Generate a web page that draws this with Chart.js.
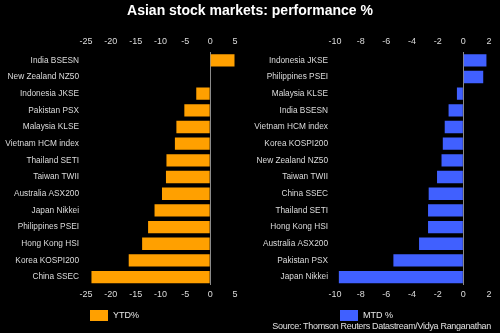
<!DOCTYPE html>
<html>
<head>
<meta charset="utf-8">
<script src="https://cdn.jsdelivr.net/npm/chart.js@4"></script>
<style>
    body { margin: 0; background: #000; }
    #wrap { position: relative; width: 500px; height: 333px; background: #000; overflow: hidden; }
    #title {
        position: absolute; left: 0; top: 2px; width: 500px; text-align: center;
        font: bold 14px "Liberation Sans", Arial, sans-serif; color: #fff;
    }
    #source {
        position: absolute; right: 9px; top: 321px; letter-spacing: -0.32px;
        font: 9px "Liberation Sans", Arial, sans-serif; color: #e0e0e0;
    }
    .box { position: absolute; top: 0; width: 250px; height: 333px; }
    .legend {
        position: absolute; top: 310px; height: 12px; line-height: 12px;
        font: 9px "Liberation Sans", Arial, sans-serif; color: #e8e8e8;
    }
    .legend span {
        display: inline-block; width: 18px; height: 11px; margin-right: 5px; vertical-align: top;
    }
</style>
</head>
<body>
<div id="wrap">
    <div class="box" style="left:0"><canvas id="ytdChart"></canvas></div>
    <div class="box" style="left:250px"><canvas id="mtdChart"></canvas></div>
    <div id="title">Asian stock markets: performance %</div>
    <div class="legend" id="ytdLegend" style="left:90px"></div>
    <div class="legend" id="mtdLegend" style="left:340px"></div>
    <div id="source">Source: Thomson Reuters Datastream/Vidya Ranganathan</div>
</div>
<script>
// YTD (left panel)
const ytdLabels = ['India BSESN', 'New Zealand NZ50', 'Indonesia JKSE', 'Pakistan PSX', 'Malaysia KLSE',
    'Vietnam HCM index', 'Thailand SETI', 'Taiwan TWII', 'Australia ASX200', 'Japan Nikkei',
    'Philippines PSEI', 'Hong Kong HSI', 'Korea KOSPI200', 'China SSEC'];
const ytdValues = [4.9, 0, -2.8, -5.2, -6.8, -7.1, -8.8, -8.9, -9.7, -11.2, -12.5, -13.7, -16.4, -23.9];
const ytdTicks = [-25, -20, -15, -10, -5, 0, 5];

// MTD (right panel)
const mtdLabels = ['Indonesia JKSE', 'Philippines PSEI', 'Malaysia KLSE', 'India BSESN', 'Vietnam HCM index',
    'Korea KOSPI200', 'New Zealand NZ50', 'Taiwan TWII', 'China SSEC', 'Thailand SETI',
    'Hong Kong HSI', 'Australia ASX200', 'Pakistan PSX', 'Japan Nikkei'];
const mtdValues = [1.8, 1.55, -0.5, -1.15, -1.45, -1.6, -1.7, -2.05, -2.7, -2.75, -2.75, -3.45, -5.45, -9.7];
const mtdTicks = [-10, -8, -6, -4, -2, 0, 2];

const FONT = "'Liberation Sans', Arial, sans-serif";
const TICK_COLOR = '#dcdcdc';

function xAxis(ticks, position, pad) {
    return {
        type: 'linear',
        position: position,
        min: ticks[0],
        max: ticks[ticks.length - 1],
        afterBuildTicks: function(scale) {
            scale.ticks = ticks.map(v => ({ value: v }));
        },
        afterFit: function(scale) {
            scale.height = position == 'top' ? 21 : 20;
        },
        ticks: {
            color: TICK_COLOR,
            font: { family: FONT, size: 9 },
            padding: pad,
            maxRotation: 0
        },
        grid: {
            display: position == 'bottom',
            drawTicks: false,
            lineWidth: 1,
            color: ctx => ctx.tick && ctx.tick.value === 0 ? '#8a8a8a' : 'rgba(0,0,0,0)'
        },
        border: { display: false }
    };
}

function initChart(id, labels, values, ticks, color, legendLabel, axisWidth, padRight) {
    const ctx = document.getElementById(id);
    const legend = document.getElementById(id.replace('Chart', 'Legend'));
    legend.innerHTML = `<span style="background:${color}"></span>${legendLabel}`;

    return new Chart(ctx, {
        type: 'bar',
        data: {
            labels: labels,
            datasets: [{
                label: legendLabel,
                data: values,
                backgroundColor: color,
                borderWidth: 0,
                categoryPercentage: 1,
                barPercentage: 0.74
            }]
        },
        options: {
            indexAxis: 'y',
            responsive: true,
            maintainAspectRatio: false,
            animation: false,
            layout: { padding: { top: 31, bottom: 27.6, left: 0, right: padRight } },
            scales: {
                x: xAxis(ticks, 'bottom', 4),
                x2: xAxis(ticks, 'top', 5),
                y: {
                    afterFit: function(scale) {
                        scale.width = axisWidth;
                    },
                    ticks: {
                        color: TICK_COLOR,
                        font: { family: FONT, size: 8.3 },
                        padding: 7,
                        autoSkip: false
                    },
                    grid: { display: false, drawTicks: false },
                    border: { display: false }
                }
            },
            plugins: {
                legend: { display: false },
                tooltip: { enabled: false }
            }
        }
    });
}

initChart('ytdChart', ytdLabels, ytdValues, ytdTicks, '#FFA000', 'YTD%', 86, 15);
initChart('mtdChart', mtdLabels, mtdValues, mtdTicks, '#4060FF', 'MTD %', 85, 11);
</script>
</body>
</html>
